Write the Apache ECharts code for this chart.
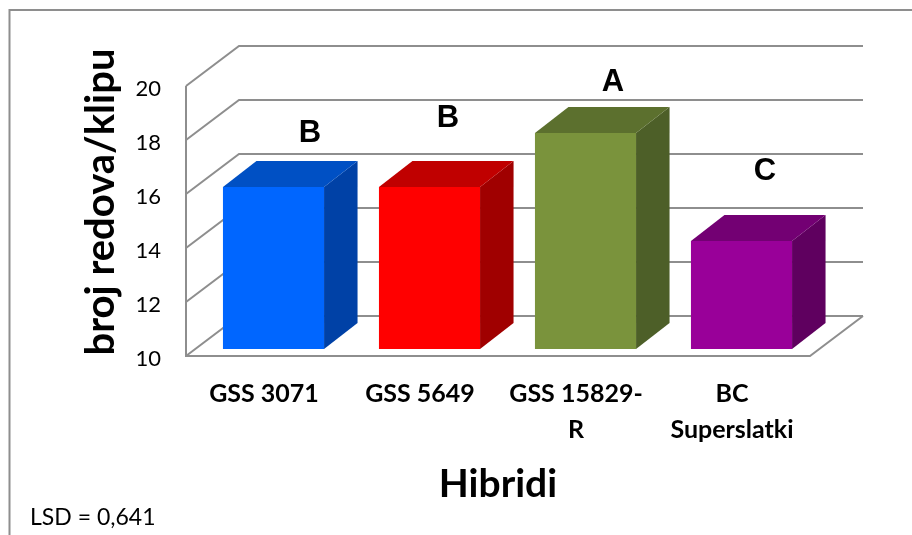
<!DOCTYPE html>
<html><head><meta charset="utf-8">
<style>html,body{margin:0;padding:0;background:#fff}#c{width:912px;height:535px}</style>
<script src="https://cdn.jsdelivr.net/npm/echarts@6/dist/echarts.min.js"></script>
</head><body><div id="c"></div>
<script>
const categories = ['GSS 3071', 'GSS 5649', 'GSS 15829-\nR', 'BC\nSuperslatki'];
const values = [16, 16, 18, 14];
const groupLetters = ['B', 'B', 'A', 'C'];
const yTicks = [10, 12, 14, 16, 18, 20];
const frontColors = ['#0066ff', '#ff0000', '#7a933c', '#990099'];
const topColors = ['#0050c4', '#c00000', '#5c702e', '#730073'];
const sideColors = ['#0041a6', '#a00000', '#4d5f28', '#5f005f'];
const xTitle = 'Hibridi';
const yTitle = 'broj redova/klipu';
const note = 'LSD = 0,641';

const wallDx = 53, wallDy = 40, barInsetX = 9.5, barInsetY = 7, barDx = 33.5, barDy = 26, barRatio = 0.648;
const lineColor = '#8e8e8e';
const letterPos = [[310, 133], [448, 118], [613, 82], [765, 171]];

function renderWall(params, api) {
  const cs = params.coordSys;
  const v = api.value(1);
  const y = api.coord([0, v])[1];
  const shape = { points: [[cs.x, y], [cs.x + wallDx, y - wallDy], [cs.x + cs.width + wallDx, y - wallDy]] };
  const children = [{ type: 'polyline', shape, style: { stroke: lineColor, lineWidth: 2, fill: null } }];
  if (v === yTicks[0]) {
    children.push({ type: 'polyline', shape: { points: [[cs.x, cs.y], [cs.x, y], [cs.x + cs.width, y], [cs.x + cs.width + wallDx, y - wallDy]] },
      style: { stroke: lineColor, lineWidth: 2, fill: null } });
  }
  return { type: 'group', children };
}
function renderBar(params, api) {
  const i = api.value(0);
  const top = api.coord([i, api.value(1)]);
  const base = api.coord([i, yTicks[0]]);
  const w = api.size([1, 0])[0] * barRatio;
  const l = top[0] + barInsetX - w / 2, r = l + w;
  const t = top[1] - barInsetY, b = base[1] - barInsetY;
  return { type: 'group', children: [
    { type: 'polygon', shape: { points: [[r, t], [r + barDx, t - barDy], [r + barDx, b - barDy], [r, b]] }, style: { fill: sideColors[i] } },
    { type: 'polygon', shape: { points: [[l, t], [l + barDx, t - barDy], [r + barDx, t - barDy], [r, t]] }, style: { fill: topColors[i] } },
    { type: 'rect', shape: { x: l, y: t, width: w, height: b - t }, style: { fill: frontColors[i] } }
  ] };
}

const chart = echarts.init(document.getElementById('c'), null, { renderer: 'canvas' });
chart.setOption({
  animation: false,
  backgroundColor: '#fff',
  grid: { left: 186, right: 102, top: 86, bottom: 179, containLabel: false },
  title: { text: note, left: 25, top: 501, textStyle: { fontFamily: 'Lato', fontSize: 23, fontWeight: 'normal', color: '#000' } },
  xAxis: {
    type: 'category', data: categories,
    axisLine: { show: false }, axisTick: { show: false },
    axisLabel: { interval: 0, margin: 20, fontFamily: 'Lato', fontWeight: 'bold', fontSize: 25, lineHeight: 36, color: '#000' },
    name: xTitle, nameLocation: 'middle', nameGap: 109,
    nameTextStyle: { fontFamily: 'Lato', fontWeight: 'bold', fontSize: 39, color: '#000' }
  },
  yAxis: {
    type: 'value', min: 10, max: 20, interval: 2,
    axisLine: { show: false }, axisTick: { show: false }, splitLine: { show: false },
    axisLabel: { margin: 25, verticalAlign: 'top', lineHeight: 6, fontFamily: 'Lato', fontSize: 22, color: '#000' },
    name: yTitle, nameLocation: 'middle', nameRotate: 90, nameGap: 65,
    nameTextStyle: { fontFamily: 'Lato', fontWeight: 'bold', fontSize: 40, color: '#000', padding: [0, 0, 0, 38] }
  },
  graphic: [
    { type: 'rect', silent: true, z: -1, shape: { x: 9.5, y: 10, width: 1000, height: 700 }, style: { fill: null, stroke: '#8e8e8e', lineWidth: 2 } }
  ].concat(groupLetters.map((t, i) => ({
    type: 'text', silent: true, x: letterPos[i][0], y: letterPos[i][1],
    style: { text: t, align: 'center', verticalAlign: 'middle', fontFamily: 'Liberation Sans', fontWeight: 'bold', fontSize: 31, fill: '#000' }
  }))),
  series: [
    { type: 'custom', name: 'wall', renderItem: renderWall, clip: false, silent: true, z: 1, data: yTicks.map(v => [0, v]) },
    { type: 'custom', name: 'bars', renderItem: renderBar, clip: false, silent: true, z: 2, data: values.map((v, i) => [i, v]) }
  ]
});
</script></body></html>
